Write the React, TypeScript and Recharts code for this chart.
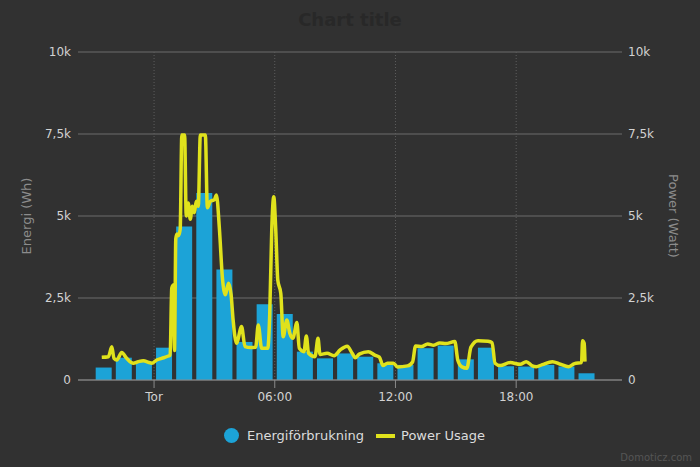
import React from 'react';
import { ComposedChart, Bar, Line, XAxis, YAxis, CartesianGrid, Legend } from 'recharts';

// hourly energy bars, hours relative to midnight (Tor)
const barHours = [-2.5, -1.5, -0.5, 0.5, 1.5, 2.5, 3.5, 4.5, 5.5, 6.5, 7.5, 8.5, 9.5, 10.5, 11.5, 12.5, 13.5, 14.5, 15.5, 16.5, 17.5, 18.5, 19.5, 20.5, 21.5];
const energyWh = [380, 680, 560, 985, 4680, 5700, 3370, 1160, 2310, 2010, 865, 660, 810, 710, 510, 460, 970, 1050, 630, 985, 420, 410, 460, 410, 205];

// power readings
const powerHours = [
  -2.6, -2.27, -2.1, -1.99, -1.85, -1.61, -1.36, -1.03, -0.78, -0.53, -0.28, -0.11, 0.13, 0.38, 0.71,
  0.8, 0.88, 0.96, 1.02, 1.08, 1.14, 1.22, 1.3, 1.38, 1.52, 1.6, 1.7, 1.8, 1.9, 2.0, 2.1, 2.2, 2.3,
  2.55, 2.65, 2.8, 3.0, 3.1, 3.25, 3.4, 3.55, 3.7, 3.83, 3.93, 4.1, 4.35, 4.52, 4.8, 5.05, 5.18, 5.35,
  5.65, 5.75, 5.85, 5.95, 6.05, 6.15, 6.3, 6.42, 6.6, 6.75, 6.9, 7.1, 7.22, 7.45, 7.57, 7.68, 8.0,
  8.15, 8.25, 8.6, 8.95, 9.25, 9.6, 9.85, 10.0, 10.2, 10.65, 11.0, 11.2, 11.38, 11.6, 11.9, 12.1,
  12.6, 12.85, 13.0, 13.3, 13.6, 13.9, 14.2, 14.5, 14.95, 15.1, 15.3, 15.55, 15.75, 16.1, 16.6, 16.8, 16.95,
  17.2, 17.7, 18.2, 18.5, 18.8, 19.0, 19.3, 19.8, 20.2, 20.6, 20.9, 21.25, 21.3, 21.38, 21.42,
];
const powerWatt = [
  690, 710, 1010, 660, 610, 840, 660, 510, 560, 590, 540, 510, 610, 660, 730,
  760, 2800, 2900, 900, 4300, 4450, 4400, 4600, 7470, 7470, 5000, 5400, 4900, 5300, 5100, 5450, 5300, 7470,
  7470, 5250, 5450, 5500, 5640, 4600, 3100, 2600, 2950, 2600, 1830, 1120, 1630, 1020, 990, 1000, 1680, 965,
  965, 2000, 4570, 5590, 4570, 3050, 2640, 1320, 1830, 1420, 1270, 1750, 965, 865, 1340, 815, 710,
  1270, 780, 815, 740, 915, 1030, 815, 680, 790, 865, 750, 700, 440, 510, 510, 400,
  430, 550, 1040, 1020, 1100, 1060, 1130, 1110, 1170, 600, 400, 360, 1000, 1200, 1180, 1140, 510,
  440, 530, 480, 560, 430, 405, 470, 560, 480, 405, 500, 530, 1200, 1120, 560,
];

const xTicks = [0, 6, 12, 18];
const xTickLabels = ['Tor', '06:00', '12:00', '18:00'];
const yTicks = [0, 2500, 5000, 7500, 10000];
const yTickLabels = ['0', '2,5k', '5k', '7,5k', '10k'];

const BAR_COLOR = '#1ca3d7';
const LINE_COLOR = '#e0e21c';
const FONT = '"DejaVu Sans", Verdana, sans-serif';
const X_DOMAIN: [number, number] = [-3.78, 23.26];

const energyData = barHours.map((t, i) => ({ t, energy: energyWh[i] }));
const powerData = powerHours.map((t, i) => ({ t, power: powerWatt[i] }));

const fmtX = (v: number) => xTickLabels[xTicks.indexOf(v)] ?? '';
const fmtY = (v: number) => yTickLabels[yTicks.indexOf(v)] ?? '';

const LegendContent = () => (
  <div style={{ display: 'flex', justifyContent: 'center', alignItems: 'center', fontFamily: FONT, fontSize: 13, color: '#dcdcdc', paddingLeft: 9 }}>
    <svg width={15} height={15}><circle cx={7.5} cy={7.5} r={7.5} fill={BAR_COLOR} /></svg>
    <span style={{ marginLeft: 8 }}>Energiförbrukning</span>
    <svg width={19} height={4} style={{ marginLeft: 12 }}><rect width={19} height={4} fill={LINE_COLOR} /></svg>
    <span style={{ marginLeft: 6 }}>Power Usage</span>
  </div>
);

const App: React.FC = () => {
  const tickStyle = { fill: '#d2d2d2', fontSize: 12, fontFamily: FONT };
  return (
    <div style={{ position: 'absolute', left: 0, top: 0, width: 700, height: 467, background: '#313131', overflow: 'hidden' }}>
      <div style={{ position: 'absolute', top: 9, width: 700, textAlign: 'center', fontFamily: FONT, fontSize: 18, fontWeight: 'bold', color: '#282828' }}>
        Chart title
      </div>
      <ComposedChart width={700} height={467} data={energyData} margin={{ top: 52, right: 0, bottom: 57, left: 0 }}>
        <CartesianGrid xAxisId="bars" yAxisId="left" horizontal vertical={false} stroke="#6c6c6c" />
        <CartesianGrid
          xAxisId="bars"
          yAxisId="left"
          horizontal={false}
          vertical
          syncWithTicks
          stroke="#5e5e5e"
          strokeDasharray="1 2"
        />
        <XAxis
          xAxisId="bars"
          dataKey="t"
          type="number"
          domain={X_DOMAIN}
          allowDataOverflow
          ticks={xTicks}
          tickFormatter={fmtX}
          height={30}
          stroke="#8a8a8a"
          tickSize={8}
          tickMargin={4}
          tick={tickStyle}
        />
        <XAxis xAxisId="line" dataKey="t" type="number" domain={X_DOMAIN} allowDataOverflow hide />
        <YAxis
          yAxisId="left"
          width={78}
          domain={[0, 10000]}
          ticks={yTicks}
          tickFormatter={fmtY}
          axisLine={false}
          tickLine={false}
          tickSize={0}
          tickMargin={7}
          tick={tickStyle}
          label={{
            content: () => (
              <text x={26} y={216} transform="rotate(-90 26 216)" textAnchor="middle" dominantBaseline="central" fill="#8c8c8c" fontSize={13} fontFamily={FONT}>
                Energi (Wh)
              </text>
            ),
          }}
        />
        <YAxis
          yAxisId="right"
          orientation="right"
          width={78}
          domain={[0, 10000]}
          ticks={yTicks}
          tickFormatter={fmtY}
          axisLine={false}
          tickLine={false}
          tickSize={0}
          tickMargin={6}
          tick={tickStyle}
          label={{
            content: () => (
              <text x={673} y={216} transform="rotate(90 673 216)" textAnchor="middle" dominantBaseline="central" fill="#8c8c8c" fontSize={13} fontFamily={FONT}>
                Power (Watt)
              </text>
            ),
          }}
        />
        <Bar
          xAxisId="bars"
          yAxisId="left"
          dataKey="energy"
          name="Energiförbrukning"
          fill={BAR_COLOR}
          barSize={16}
          isAnimationActive={false}
        />
        <Line
          xAxisId="line"
          yAxisId="right"
          data={powerData}
          dataKey="power"
          name="Power Usage"
          type="monotone"
          stroke={LINE_COLOR}
          strokeWidth={3.5}
          strokeLinejoin="round"
          dot={false}
          activeDot={false}
          isAnimationActive={false}
        />
        <Legend
          layout="horizontal"
          verticalAlign="middle"
          align="center"
          content={LegendContent}
          wrapperStyle={{ top: 428, left: 0, width: 700 }}
        />
      </ComposedChart>
      <div style={{ position: 'absolute', right: 8, bottom: 4, fontFamily: FONT, fontSize: 10, color: '#555' }}>
        Domoticz.com
      </div>
    </div>
  );
};

export default App;
